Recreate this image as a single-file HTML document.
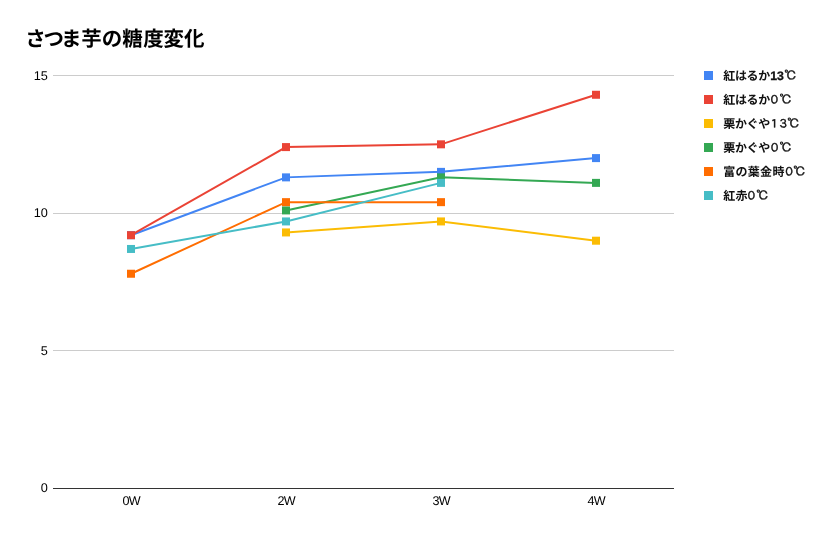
<!DOCTYPE html>
<html lang="ja">
<head>
<meta charset="utf-8">
<title>さつま芋の糖度変化</title>
<style>
html,body{margin:0;padding:0;background:#fff;}
body{width:832px;height:535px;overflow:hidden;}
svg{display:block;}
text{font-family:"Liberation Sans", "Noto Sans CJK JP", sans-serif;text-rendering:geometricPrecision;}
.title{font-size:20.5px;font-weight:bold;fill:#000;}
.ax{font-size:12.3px;fill:#000;}
.xl{font-size:12.6px;letter-spacing:-0.7px;}
.lg{font-size:12px;font-weight:bold;fill:#111;letter-spacing:-0.3px;}
.fw{font-family:IPAGothic,"Noto Sans CJK JP",sans-serif;font-weight:normal;letter-spacing:0;stroke:#111;stroke-width:0.4px;}
.fd{font-size:11.7px;}
.fc{font-size:12.5px;}
.kj{letter-spacing:0.3px;}
.ld{font-size:12.3px;letter-spacing:0;stroke:#111;stroke-width:0.3px;}
</style>
</head>
<body>
<svg width="832" height="535" viewBox="0 0 832 535">
<rect x="0" y="0" width="832" height="535" fill="#ffffff"/>
<text class="title" x="25.15 43.4 60.9 81.3 101.65 122.35 143.35 163.4 184.1" y="46.2">さつま芋の糖度変化</text>
<rect x="53" y="350" width="621" height="1" fill="#cccccc"/>
<rect x="53" y="213" width="621" height="1" fill="#cccccc"/>
<rect x="53" y="75" width="621" height="1" fill="#cccccc"/>
<rect x="53" y="488" width="621" height="1" fill="#333333"/>
<text class="ax" style="font-size:12.7px" x="47.9" y="492.0" text-anchor="end">0</text>
<text class="ax" style="font-size:12.7px" x="47.9" y="354.9" text-anchor="end">5</text>
<text class="ax" style="font-size:12.7px" x="47.9" y="217.0" text-anchor="end">10</text>
<text class="ax" style="font-size:12.7px" x="47.9" y="79.9" text-anchor="end">15</text>
<text class="ax xl" x="131.2" y="504.8" text-anchor="middle">0W</text>
<text class="ax xl" x="286.2" y="504.8" text-anchor="middle">2W</text>
<text class="ax xl" x="441.2" y="504.8" text-anchor="middle">3W</text>
<text class="ax xl" x="596.2" y="504.8" text-anchor="middle">4W</text>
<g fill="#4285F4" stroke="none">
<polyline fill="none" stroke="#4285F4" stroke-width="2" points="131.00,235.19 286.00,177.37 441.00,171.87 596.00,158.10"/>
<rect x="127.0" y="231.19" width="8" height="8"/>
<rect x="282.0" y="173.37" width="8" height="8"/>
<rect x="437.0" y="167.87" width="8" height="8"/>
<rect x="592.0" y="154.10" width="8" height="8"/>
</g>
<g fill="#EA4335" stroke="none">
<polyline fill="none" stroke="#EA4335" stroke-width="2" points="131.00,235.19 286.00,147.09 441.00,144.33 596.00,94.77"/>
<rect x="127.0" y="231.19" width="8" height="8"/>
<rect x="282.0" y="143.09" width="8" height="8"/>
<rect x="437.0" y="140.33" width="8" height="8"/>
<rect x="592.0" y="90.77" width="8" height="8"/>
</g>
<g fill="#FBBC04" stroke="none">
<polyline fill="none" stroke="#FBBC04" stroke-width="2" points="286.00,232.44 441.00,221.43 596.00,240.70"/>
<rect x="282.0" y="228.44" width="8" height="8"/>
<rect x="437.0" y="217.43" width="8" height="8"/>
<rect x="592.0" y="236.70" width="8" height="8"/>
</g>
<g fill="#34A853" stroke="none">
<polyline fill="none" stroke="#34A853" stroke-width="2" points="286.00,210.41 441.00,177.37 596.00,182.88"/>
<rect x="282.0" y="206.41" width="8" height="8"/>
<rect x="437.0" y="173.37" width="8" height="8"/>
<rect x="592.0" y="178.88" width="8" height="8"/>
</g>
<g fill="#FF6D01" stroke="none">
<polyline fill="none" stroke="#FF6D01" stroke-width="2" points="131.00,273.74 286.00,202.15 441.00,202.15"/>
<rect x="127.0" y="269.74" width="8" height="8"/>
<rect x="282.0" y="198.15" width="8" height="8"/>
<rect x="437.0" y="198.15" width="8" height="8"/>
</g>
<g fill="#46BDC6" stroke="none">
<polyline fill="none" stroke="#46BDC6" stroke-width="2" points="131.00,248.96 286.00,221.43 441.00,182.88"/>
<rect x="127.0" y="244.96" width="8" height="8"/>
<rect x="282.0" y="217.43" width="8" height="8"/>
<rect x="437.0" y="178.88" width="8" height="8"/>
</g>
<rect x="704" y="71" width="9" height="9" fill="#4285F4"/>
<text class="lg" y="79.8"><tspan x="723.20">紅はるか</tspan><tspan class="ld" x="770.15">13</tspan><tspan class="fw fc" x="784.15">℃</tspan></text>
<rect x="704" y="95" width="9" height="9" fill="#EA4335"/>
<text class="lg" y="103.8"><tspan x="723.20">紅はるか</tspan><tspan class="fw fd" x="768.51">０</tspan><tspan class="fw fc" x="779.40">℃</tspan></text>
<rect x="704" y="119" width="9" height="9" fill="#FBBC04"/>
<text class="lg" y="127.8"><tspan x="723.20">栗かぐや</tspan><tspan class="fw fd" x="768.51">１</tspan><tspan class="fw fd" x="777.59">３</tspan><tspan class="fw fc" x="787.25">℃</tspan></text>
<rect x="704" y="143" width="9" height="9" fill="#34A853"/>
<text class="lg" y="151.8"><tspan x="723.20">栗かぐや</tspan><tspan class="fw fd" x="768.86">０</tspan><tspan class="fw fc" x="779.45">℃</tspan></text>
<rect x="704" y="167" width="9" height="9" fill="#FF6D01"/>
<text class="lg" y="175.8"><tspan class="kj" x="723.20">富の葉金時</tspan><tspan class="fw fd" x="783.31">０</tspan><tspan class="fw fc" x="793.15">℃</tspan></text>
<rect x="704" y="191" width="9" height="9" fill="#46BDC6"/>
<text class="lg" y="199.8"><tspan class="kj" x="723.20">紅赤</tspan><tspan class="fw fd" x="745.51">０</tspan><tspan class="fw fc" x="756.25">℃</tspan></text>
</svg>
</body>
</html>
